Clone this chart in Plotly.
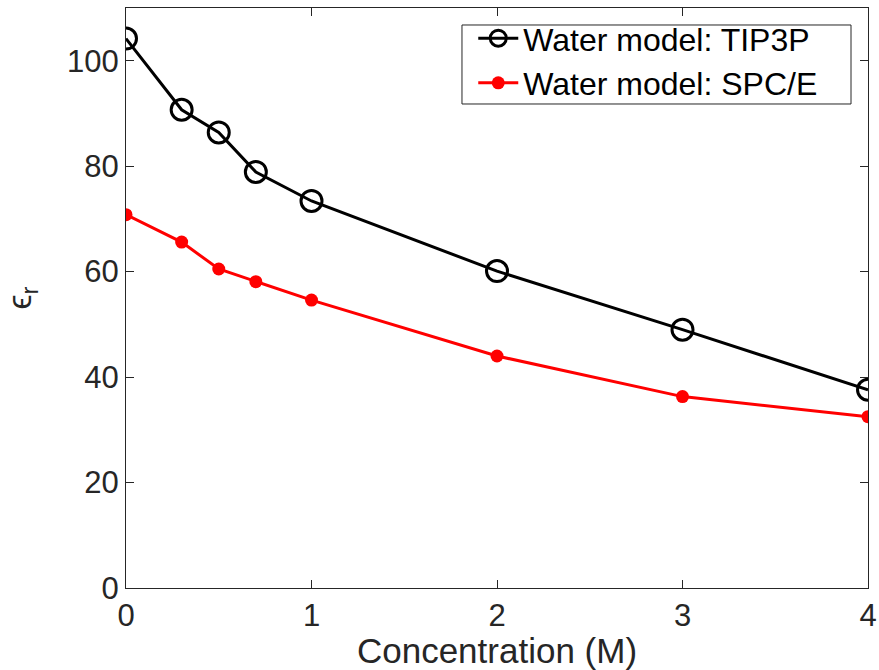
import plotly.graph_objects as go

# Salt concentration (M)
concentration = [0, 0.3, 0.5, 0.7, 1, 2, 3, 4]
# Relative permittivity for each water model
eps_tip3p = [104.2, 90.7, 86.4, 78.9, 73.4, 60.1, 49.0, 37.6]
eps_spce = [70.8, 65.6, 60.5, 58.1, 54.6, 44.0, 36.3, 32.5]

x_ticks = [0, 1, 2, 3, 4]
y_ticks = [0, 20, 40, 60, 80, 100]

font_family = "Liberation Sans, Arial, Helvetica, sans-serif"
axis_color = "#262626"

fig = go.Figure()
fig.add_trace(go.Scatter(
    x=concentration, y=eps_tip3p, mode="lines+markers",
    name="Water model: TIP3P",
    line=dict(color="black", width=3),
    marker=dict(symbol="circle-open", size=21, color="black", line=dict(width=3)),
))
fig.add_trace(go.Scatter(
    x=concentration, y=eps_spce, mode="lines+markers",
    name="Water model: SPC/E",
    line=dict(color="#ff0000", width=3),
    marker=dict(symbol="circle", size=13, color="#ff0000"),
))

axis_common = dict(
    showline=True, linecolor=axis_color, linewidth=1, mirror="ticks",
    ticks="inside", ticklen=8, tickcolor=axis_color, tickwidth=1,
    showgrid=False, zeroline=False, automargin=False,
    tickfont=dict(family=font_family, size=31, color=axis_color),
)

# Legend frame drawn as a paper-space rectangle so it can be tighter than
# plotly's own legend border
fig.add_shape(
    type="rect", xref="paper", yref="paper",
    x0=0.4528, x1=0.9771, y0=0.8345, y1=0.9707,
    line=dict(color=axis_color, width=1), fillcolor="white", layer="above",
)

fig.update_layout(
    width=879, height=670,
    margin=dict(l=126, r=11, t=8, b=82),
    plot_bgcolor="white", paper_bgcolor="white",
    xaxis=dict(range=[0, 4], tickvals=x_ticks,
               title=dict(text="Concentration (M)", standoff=0,
                          font=dict(family=font_family, size=35, color=axis_color)),
               **axis_common),
    yaxis=dict(range=[0, 110], tickvals=y_ticks,
               title=dict(text="ϵ<sub>r</sub>", standoff=48,
                          font=dict(family=font_family, size=34, color=axis_color)),
               **axis_common),
    legend=dict(
        x=0.468, y=0.995, xanchor="left", yanchor="top",
        bgcolor="rgba(0,0,0,0)", borderwidth=0,
        font=dict(family=font_family, size=32, color="black"),
        tracegroupgap=0, itemwidth=40,
    ),
    showlegend=True,
)

fig.write_html("out.html")
